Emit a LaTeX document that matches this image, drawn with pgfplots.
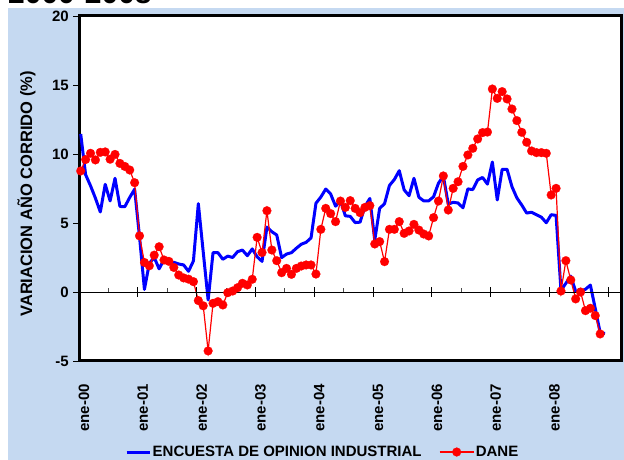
\documentclass[border=0pt]{standalone}
\usepackage{pgfplots}
\pgfplotsset{compat=1.18}
\usepackage{fontspec}
\setmainfont{Liberation Sans}
\definecolor{bgblue}{RGB}{197,217,241}
\definecolor{eoiblue}{RGB}{0,0,255}
\definecolor{danered}{RGB}{255,0,0}
\pgfplotsset{
  blueleg/.style={legend image code/.code={\draw[##1] (0pt,0pt) -- (23pt,0pt);}},
  redleg/.style={legend image code/.code={\draw[mark repeat=2,mark phase=2,##1] plot coordinates {(0pt,0pt) (17pt,0pt) (34pt,0pt)};}},
}
\begin{document}
\begin{tikzpicture}[x=1pt,y=1pt]
\useasboundingbox (0,0) rectangle (624,460);
\fill[white] (0,0) rectangle (624,460);
\fill[bgblue] (8,0) rectangle (624,452);
\node[anchor=base west, inner sep=0pt, font=\fontsize{30}{30}\selectfont\bfseries] at (8,456) {2000-2008};
\begin{axis}[
  at={(79pt,99pt)}, anchor=south west,
  width=542pt, height=345pt, scale only axis,
  xmin=-0.35, xmax=110.25, ymin=-5, ymax=20,
  clip=false,
  axis background/.style={fill=white},
  axis line style={line width=3pt, black},
  xtick={-0.35,11.65,23.65,35.65,47.65,59.65,71.65,83.65,95.65},
  xticklabels={ene-00,ene-01,ene-02,ene-03,ene-04,ene-05,ene-06,ene-07,ene-08},
  xtick style={draw=none},
  xticklabel style={font=\fontsize{15}{15}\selectfont\bfseries, xshift=5pt, yshift=-17pt, rotate=90, anchor=east, inner sep=0pt},
  ytick={-5,0,5,10,15,20},
  yticklabels={-5,0,5,10,15,20},
  ytick pos=left, tick align=outside, major tick length=6pt,
  ytick style={line width=0.8pt, black},
  yticklabel style={font=\fontsize{15}{15}\selectfont\bfseries, inner sep=0pt, xshift=-4pt},
  legend style={at={(0.0849,-0.2638)}, anchor=west, draw=none, fill=none, inner sep=0pt,
    font=\fontsize{15}{15}\selectfont\bfseries, legend columns=2,
    /tikz/every even column/.append style={column sep=16pt},
    nodes={inner sep=1.5pt}},
  legend cell align=left,
]
\addplot[eoiblue, line width=3pt, no markers, line join=round, blueleg] coordinates {
(0,11.45)(1,8.5)(2,7.7)(3,6.8)(4,5.8)(5,7.8)(6,6.6)(7,8.24)(8,6.2)(9,6.18)
(10,6.85)(11,7.45)(12,4.0)(13,0.19)(14,2.08)(15,2.5)(16,1.68)(17,2.35)(18,2.13)(19,2.15)
(20,2.03)(21,1.96)(22,1.5)(23,2.25)(24,6.4)(25,2.9)(26,-0.58)(27,2.85)(28,2.85)(29,2.37)
(30,2.6)(31,2.5)(32,2.92)(33,3.04)(34,2.63)(35,3.12)(36,2.55)(37,2.22)(38,4.7)(39,4.37)
(40,4.13)(41,2.49)(42,2.75)(43,2.85)(44,3.17)(45,3.46)(46,3.6)(47,3.92)(48,6.43)(49,6.88)
(50,7.46)(51,7.1)(52,6.22)(53,6.6)(54,5.52)(55,5.48)(56,5.03)(57,5.06)(58,6.2)(59,6.78)
(60,3.75)(61,6.06)(62,6.4)(63,7.72)(64,8.15)(65,8.79)(66,7.4)(67,6.98)(68,8.24)(69,6.87)
(70,6.6)(71,6.6)(72,6.9)(73,7.88)(74,8.4)(75,6.37)(76,6.5)(77,6.45)(78,6.1)(79,7.47)
(80,7.42)(81,8.12)(82,8.3)(83,7.82)(84,9.42)(85,6.67)(86,8.89)(87,8.89)(88,7.63)(89,6.82)
(90,6.3)(91,5.72)(92,5.78)(93,5.6)(94,5.42)(95,5.02)(96,5.6)(97,5.55)(98,0.12)(99,0.63)
(100,1.15)(101,0.05)(102,0.05)(103,0.2)(104,0.5)(105,-1.2)(106,-2.95)(107,-3.0)
};
\addlegendentry{ENCUESTA DE OPINION INDUSTRIAL}
\addplot[danered, line width=1.2pt, mark=*, mark size=4.4pt,
  mark options={solid, fill=danered, draw=danered, line width=0.2pt}, redleg] coordinates {
(0,8.77)(1,9.6)(2,10.05)(3,9.57)(4,10.12)(5,10.15)(6,9.62)(7,9.97)(8,9.32)(9,9.1)
(10,8.84)(11,7.92)(12,4.07)(13,2.14)(14,1.9)(15,2.67)(16,3.28)(17,2.32)(18,2.22)(19,1.78)
(20,1.23)(21,1.02)(22,0.93)(23,0.75)(24,-0.62)(25,-1.0)(26,-4.27)(27,-0.82)(28,-0.7)(29,-0.94)
(30,-0.05)(31,0.07)(32,0.31)(33,0.63)(34,0.51)(35,0.92)(36,3.96)(37,2.86)(38,5.89)(39,3.04)
(40,2.27)(41,1.4)(42,1.71)(43,1.28)(44,1.71)(45,1.88)(46,1.96)(47,1.96)(48,1.3)(49,4.54)
(50,6.06)(51,5.68)(52,5.1)(53,6.59)(54,6.13)(55,6.62)(56,6.06)(57,5.75)(58,6.13)(59,6.26)
(60,3.48)(61,3.65)(62,2.2)(63,4.54)(64,4.54)(65,5.1)(66,4.25)(67,4.42)(68,4.9)(69,4.49)
(70,4.2)(71,4.06)(72,5.39)(73,6.59)(74,8.41)(75,5.94)(76,7.51)(77,7.99)(78,9.1)(79,9.93)
(80,10.41)(81,11.09)(82,11.55)(83,11.59)(84,14.71)(85,14.03)(86,14.52)(87,13.99)(88,13.26)(89,12.42)
(90,11.57)(91,10.85)(92,10.22)(93,10.1)(94,10.1)(95,10.05)(96,7.03)(97,7.51)(98,0.07)(99,2.27)
(100,0.87)(101,-0.5)(102,0.0)(103,-1.35)(104,-1.18)(105,-1.71)(106,-3.04)
};
\addlegendentry{DANE}
% zero line with its ticks
\draw[black, line width=0.9pt] (axis cs:-0.35,0) -- (axis cs:110.25,0);
\pgfplotsinvokeforeach{11.65,23.65,35.65,47.65,59.65,71.65,83.65,95.65,107.65}{
  \draw[black, line width=0.9pt] ([yshift=-5pt]axis cs:#1,0) -- ([yshift=5pt]axis cs:#1,0);
}
\pgfplotsinvokeforeach{5.65,17.65,29.65,41.65,53.65,65.65,77.65,89.65,101.65}{
  \draw[black!70, line width=0.8pt] (axis cs:#1,0) -- ([yshift=4pt]axis cs:#1,0);
}
\end{axis}
\node[rotate=90, inner sep=0pt, font=\fontsize{16.5}{16.5}\selectfont\bfseries] at (26.5,266) {VARIACION AÑO CORRIDO (\%)};
\end{tikzpicture}
\end{document}
